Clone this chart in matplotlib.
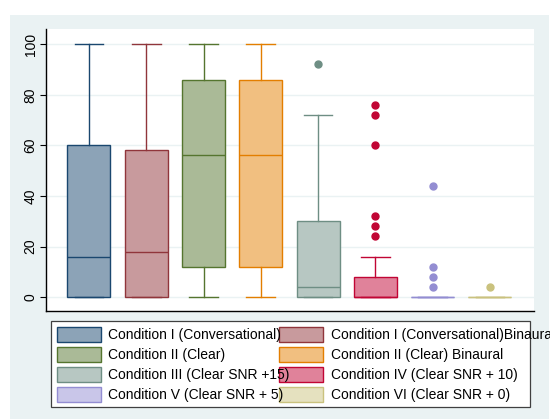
import matplotlib
matplotlib.use("Agg")
import matplotlib.pyplot as plt
from matplotlib.patches import Rectangle

plt.rcParams['font.family'] = ['Liberation Sans', 'DejaVu Sans']

labels = [
    "Condition I (Conversational)",
    "Condition I (Conversational)Binaural",
    "Condition II (Clear)",
    "Condition II (Clear) Binaural",
    "Condition III (Clear SNR +15)",
    "Condition IV (Clear SNR + 10)",
    "Condition V (Clear SNR + 5)",
    "Condition VI (Clear SNR + 0)",
]
whislo = [0, 0, 0, 0, 0, 0, 0, 0]
q1 = [0, 0, 12, 12, 0, 0, 0, 0]
med = [16, 18, 56, 56, 4, 0, 0, 0]
q3 = [60, 58, 86, 86, 30, 8, 0, 0]
whishi = [100, 100, 100, 100, 72, 16, 0, 0]
fliers = [[], [], [], [], [92], [76, 72, 60, 32, 28, 24], [44, 12, 8, 4], [4]]

# Stata s2color line colours and their 50% tints for the boxes
edge_colors = ["#1a476f", "#90353b", "#55752f", "#e37e00",
               "#6e8e84", "#c10534", "#938dd2", "#cac27e"]
fill_colors = ["#8ca3b7", "#c89a9d", "#aaba97", "#f1bf80",
               "#b7c7c2", "#e0829a", "#c9c6e9", "#e5e1bf"]

W, H = 550, 420


def fx(px):
    return px / W


def fy(py):
    return 1 - py / H


fig = plt.figure(figsize=(5.5, 4.2), dpi=100)
fig.patch.set_facecolor("white")
fig.patches.append(Rectangle((fx(10), fy(419)), fx(539), (419 - 15) / H,
                             transform=fig.transFigure, facecolor="#eaf2f3",
                             edgecolor="none", zorder=-5))

ax = fig.add_axes([fx(46), fy(311), fx(488), (311 - 29) / H])
ax.set_facecolor("white")

stats = []
for i in range(len(labels)):
    stats.append(dict(whislo=whislo[i], q1=q1[i], med=med[i], q3=q3[i],
                      whishi=whishi[i], fliers=fliers[i]))

positions = list(range(1, len(labels) + 1))
for i, st in enumerate(stats):
    c = edge_colors[i]
    ax.bxp([st], positions=[positions[i]], widths=0.75, patch_artist=True,
           showfliers=True, manage_ticks=False,
           boxprops=dict(facecolor=fill_colors[i], edgecolor=c, linewidth=1.0),
           medianprops=dict(color=c, linewidth=1.0),
           whiskerprops=dict(color=c, linewidth=1.0),
           capprops=dict(color=c, linewidth=1.0),
           capwidths=0.5,
           flierprops=dict(marker="o", markerfacecolor=c, markeredgecolor=c,
                           markersize=5, linestyle="none"))

ax.set_xlim(0.25, 8.77)
ax.set_ylim(-5.5, 106)
ax.set_yticks([0, 20, 40, 60, 80, 100])
ax.set_xticks([])
ax.tick_params(axis="y", length=4, width=0.8, pad=2, labelsize=10,
               labelrotation=90)
for lab in ax.get_yticklabels():
    lab.set_verticalalignment("center")
ax.yaxis.grid(True, color="#eaf2f3", linewidth=1.0)
ax.set_axisbelow(True)
for side in ("top", "right"):
    ax.spines[side].set_visible(False)
for side in ("left", "bottom"):
    ax.spines[side].set_linewidth(1.0)
    ax.spines[side].set_color("black")

# legend, two columns of four rows
fig.patches.append(Rectangle((fx(50.7), fy(406.7)), fx(479.3), (406.7 - 320.7) / H,
                             transform=fig.transFigure, facecolor="white",
                             edgecolor="#404040", linewidth=0.9, zorder=2))
col_patch_x = [56.7, 279.3]
col_text_x = [107.7, 331.0]
for i, lab in enumerate(labels):
    row, col = divmod(i, 2)
    yc = 334.8 + 20 * row
    fig.patches.append(Rectangle((fx(col_patch_x[col]), fy(yc + 7.5)), fx(44), 15 / H,
                                 transform=fig.transFigure,
                                 facecolor=fill_colors[i],
                                 edgecolor=edge_colors[i], linewidth=1.0,
                                 zorder=3))
    fig.text(fx(col_text_x[col]), fy(yc), lab, fontsize=10, va="center",
             ha="left", color="black", zorder=4)

fig.savefig("out.png", dpi=100)
